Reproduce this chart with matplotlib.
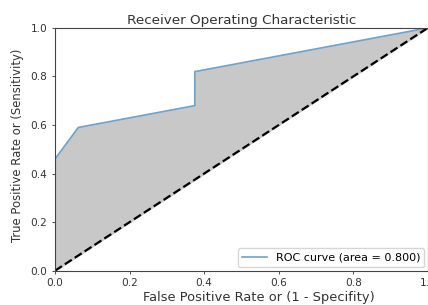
import matplotlib.pyplot as plt

fpr = [0.0, 0.0, 0.0625, 0.375, 0.375, 1.0]
tpr = [0.0, 0.46, 0.59, 0.68, 0.82, 1.0]
roc_auc = 0.800

fig = plt.figure(figsize=(4.28, 3.05), dpi=100)
ax = fig.add_axes([0.1285, 0.1125, 0.871, 0.796])

ax.fill_between(fpr, tpr, fpr, color='#c8c8c8')
ax.plot(fpr, tpr, color='#6fa3cc', lw=1.2, label='ROC curve (area = %0.3f)' % roc_auc)
ax.plot([0, 1], [0, 1], 'k--', lw=1.6)

ax.set_xlim(0, 1)
ax.set_ylim(0, 1)
ax.tick_params(labelsize=7.6, colors='#333333', length=2.5, width=0.6, pad=3)
ax.set_xlabel('False Positive Rate or (1 - Specifity)', fontsize=9.4, color='#333333')
ax.set_ylabel('True Positive Rate or (Sensitivity)', fontsize=8.4, color='#333333')
ax.xaxis.set_label_coords(0.548, -0.085)
ax.yaxis.set_label_coords(-0.083, 0.515)
ax.set_title('Receiver Operating Characteristic', fontsize=9.7, color='#333333', pad=3)
for s in ax.spines.values():
    s.set_linewidth(0.8)
    s.set_color('#444444')
ax.legend(loc='lower right', fontsize=8.0, handlelength=2.2, framealpha=0.8,
          borderaxespad=0.3)

fig.savefig('out.png', dpi=100)
